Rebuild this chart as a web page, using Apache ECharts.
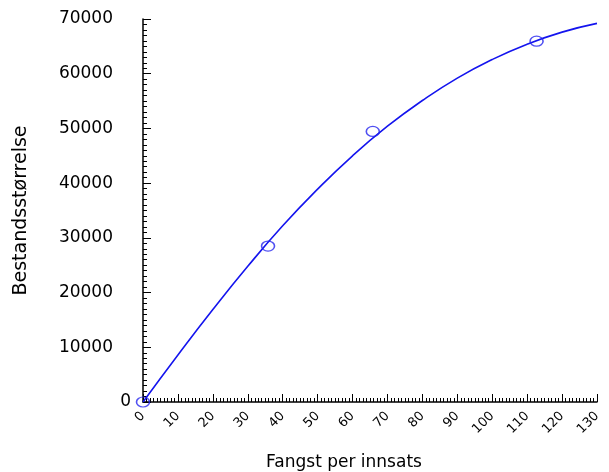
<!DOCTYPE html>
<html>
    <head>
        <meta charset="UTF-8">
        <script src="https://cdn.jsdelivr.net/npm/echarts@6/dist/echarts.min.js"></script>
        <style>
            html, body { margin: 0; padding: 0; background: #fff; }
            #main { width: 609px; height: 472px; }
        </style>
    </head>
    <body>
        <div id="main"></div>
    </body>
    <script>
        // observations (circles)
        var obsX = [0, 35.8, 65.8, 112.7];
        var obsY = [0, 28500, 49450, 65950];
        // fitted curve
        var curveX = [0, 10, 20, 30, 40, 50, 60, 70, 80, 90, 100, 110, 120, 130];
        var curveY = [0, 8600, 16900, 24800, 32200, 38900, 45000, 50400, 55100, 59200, 62600, 65400, 67600, 69200];
        var xTicks = [0, 130, 10];      // min, max, interval
        var yTicks = [0, 70000, 10000];

        var font = 'DejaVu Sans';
        var obs = obsX.map(function (x, i) { return [x, obsY[i]]; });
        var curve = curveX.map(function (x, i) { return [x, curveY[i]]; });

        var myChart = echarts.init(document.getElementById('main'));
        var option = {
            animation: false,
            backgroundColor: '#fff',
            grid: { left: 143, right: 12, top: 19, bottom: 70, outerBoundsMode: 'none', containLabel: false },
            xAxis: {
                type: 'value',
                min: xTicks[0], max: xTicks[1], interval: xTicks[2],
                name: 'Fangst per innsats',
                nameLocation: 'middle',
                nameGap: 52,
                nameTextStyle: { fontFamily: font, fontSize: 17, color: '#000', padding: [0, 52, 0, 0] },
                axisLine: { lineStyle: { color: '#000', width: 1.5 } },
                axisTick: { inside: true, length: 8, lineStyle: { color: '#000' } },
                minorTick: { show: true, splitNumber: 10, length: 4, lineStyle: { color: '#000' } },
                splitLine: { show: false },
                axisLabel: { rotate: 45, margin: 12, fontFamily: font, fontSize: 13, color: '#000' }
            },
            yAxis: {
                type: 'value',
                min: yTicks[0], max: yTicks[1], interval: yTicks[2],
                name: 'Bestandsstørrelse',
                nameLocation: 'middle',
                nameGap: 112,
                nameTextStyle: { fontFamily: font, fontSize: 19, color: '#000' },
                axisLine: { lineStyle: { color: '#000', width: 1.5 } },
                axisTick: { inside: true, length: 8, lineStyle: { color: '#000' } },
                minorTick: { show: true, splitNumber: 10, length: 4, lineStyle: { color: '#000' } },
                splitLine: { show: false },
                axisLabel: {
                    margin: 12,
                    fontFamily: font, fontSize: 17, color: '#000',
                    formatter: function (v) { return v === 0 ? '{z|0}' : '{n|' + v + '}'; },
                    rich: {
                        z: { fontFamily: font, fontSize: 17, color: '#000' },
                        n: { fontFamily: font, fontSize: 17, color: '#000', padding: [0, 18, 0, 0] }
                    }
                }
            },
            series: [
                {
                    type: 'line',
                    data: curve,
                    smooth: true,
                    showSymbol: false,
                    lineStyle: { color: '#1414ee', width: 1.6 }
                },
                {
                    type: 'scatter',
                    data: obs,
                    symbol: 'circle',
                    symbolSize: [13, 10],
                    itemStyle: { color: 'rgba(0,0,0,0)', borderColor: '#2424ee', borderWidth: 1.4 },
                    z: 3
                }
            ]
        };
        myChart.setOption(option, true);
    </script>
</html>
